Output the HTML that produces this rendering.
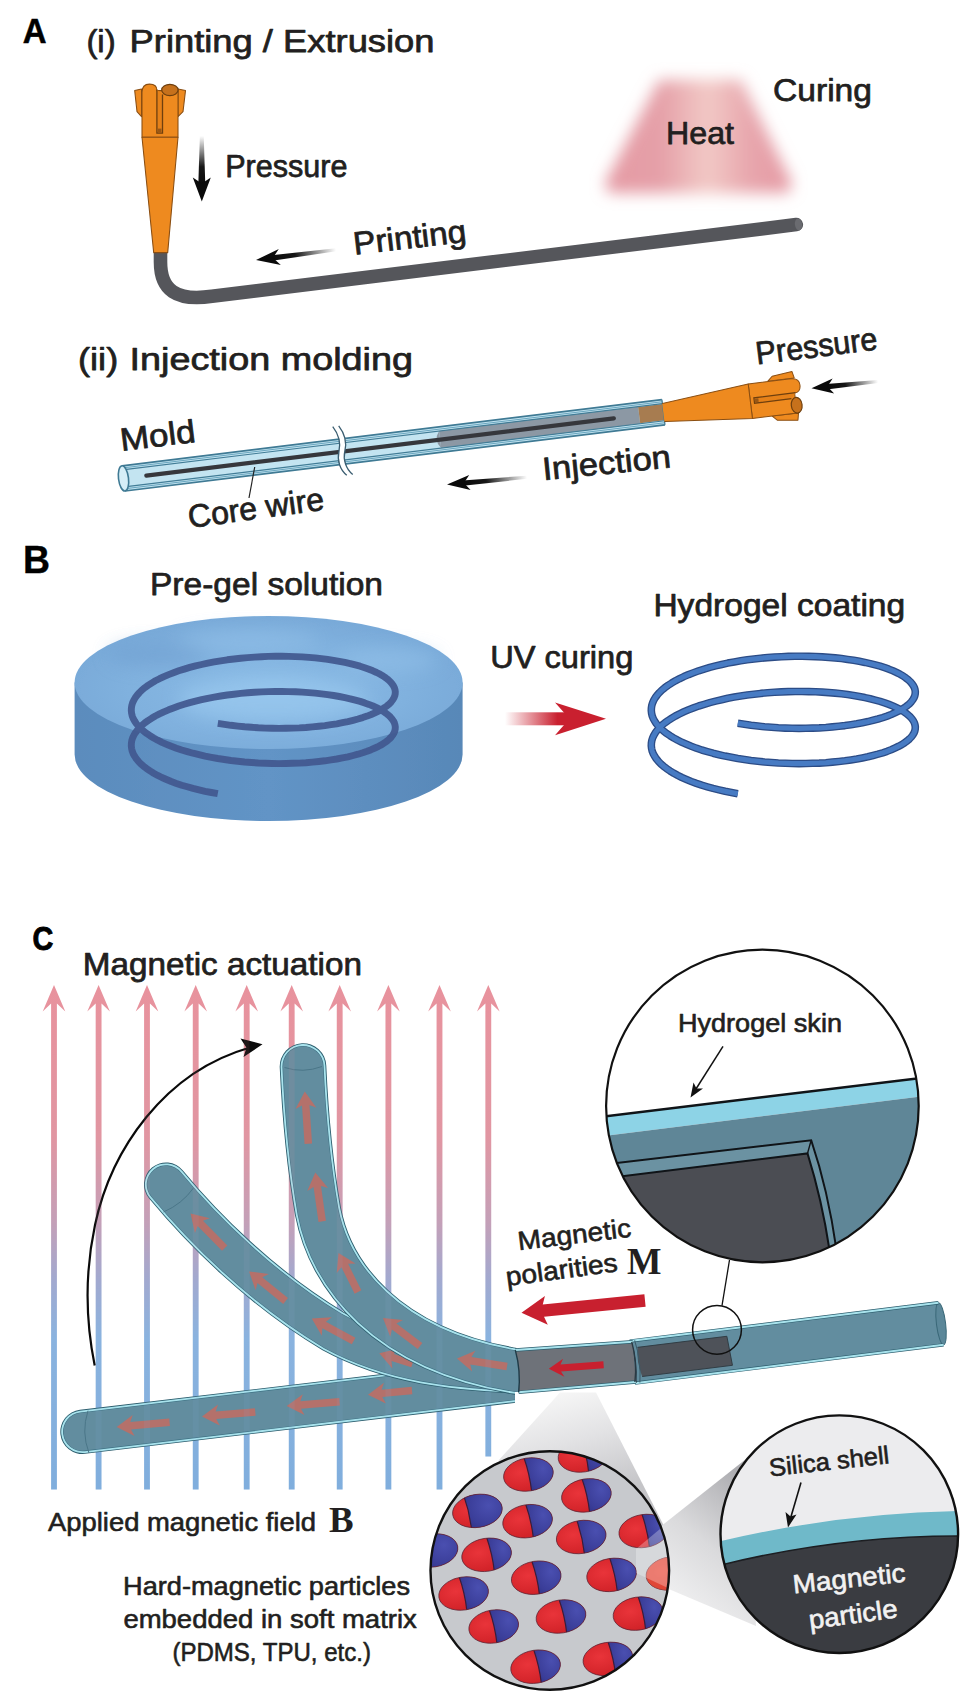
<!DOCTYPE html>
<html><head><meta charset="utf-8"><title>Figure</title>
<style>html,body{margin:0;padding:0;background:#fff;overflow:hidden}svg{display:block}</style>
</head><body>
<svg width="976" height="1693" viewBox="0 0 976 1693">
<rect width="976" height="1693" fill="#fff"/>
<text x="22.7" y="42.7" font-family="&quot;Liberation Sans&quot;, sans-serif" font-size="34.2" fill="#000" textLength="23.8" lengthAdjust="spacingAndGlyphs" font-weight="bold" stroke="#000" stroke-width="0.5">A</text>
<text x="86.4" y="52.2" font-family="&quot;Liberation Sans&quot;, sans-serif" font-size="32.2" fill="#221f20" textLength="29.3" lengthAdjust="spacingAndGlyphs" stroke="#221f20" stroke-width="0.75" stroke-linejoin="round" >(i)</text>
<text x="129.6" y="52.2" font-family="&quot;Liberation Sans&quot;, sans-serif" font-size="32.2" fill="#221f20" textLength="304.9" lengthAdjust="spacingAndGlyphs" stroke="#221f20" stroke-width="0.75" stroke-linejoin="round" >Printing / Extrusion</text>
<path d="M160.5,248 L160.5,262 C160.5,290 176,301.5 212,296.3 L796.3,224.6" fill="none" stroke="#55565b" stroke-width="13.6" stroke-linecap="round" stroke-linejoin="round"/>
<ellipse cx="798.5" cy="224.4" rx="3.6" ry="6" fill="#6a6b70" transform="rotate(-7 798.5 224.4)"/>
<g transform="translate(160.5 252.6)"><path d="M-25.8,-162 L-19,-163.5 L-19,-136 L-23.5,-141 Z" fill="#ee8a1f" stroke="#8a4e12" stroke-width="1.05" stroke-linejoin="round"/><path d="M25,-162 L17.5,-163.5 L17.5,-136 L22.5,-141 Z" fill="#ee8a1f" stroke="#8a4e12" stroke-width="1.05" stroke-linejoin="round"/><path d="M-18.5,-115.4 L-18.5,-160 Q-18.5,-168.5 -11,-168.5 Q-3.5,-168.5 -3.5,-162 L1.5,-162 L17.5,-162 L17.5,-115.4 Z" fill="#ee8a1f" stroke="#8a4e12" stroke-width="1.05" stroke-linejoin="round"/><path d="M-18.5,-115.4 L17.5,-115.4 L7.2,0 L-6.8,0 Z" fill="#ee8a1f" stroke="#8a4e12" stroke-width="1.05" stroke-linejoin="round"/><path d="M-3.6,-163 L-3.6,-119.5 L2,-119.5 L2,-158" fill="#e58119" stroke="#6e3f0e" stroke-width="1.3"/><rect x="-2.6" y="-124" width="3.6" height="4" fill="#9a5715"/><ellipse cx="9.4" cy="-162.6" rx="8.2" ry="5.6" fill="#c6711c" stroke="#6e3f0e" stroke-width="1.2"/></g>
<g transform="translate(201.8 201.5) rotate(-90.00)"><defs><linearGradient id="ga1" gradientUnits="userSpaceOnUse" x1="18" y1="0" x2="65.5" y2="0"><stop offset="0" stop-color="#0a0a0a"/><stop offset="0.35" stop-color="#0a0a0a" stop-opacity="0.95"/><stop offset="1" stop-color="#0a0a0a" stop-opacity="0"/></linearGradient></defs><polygon points="17,-3.5 65.5,-1.9250000000000003 65.5,1.9250000000000003 17,3.5" fill="url(#ga1)"/><path d="M0,0 L24,-9.0 L18,0 L24,9.0 Z" fill="#0a0a0a"/></g>
<text x="225.2" y="176.5" font-family="&quot;Liberation Sans&quot;, sans-serif" font-size="32.2" fill="#221f20" textLength="122.3" lengthAdjust="spacingAndGlyphs" stroke="#221f20" stroke-width="0.75" stroke-linejoin="round" >Pressure</text>
<g transform="translate(256 260) rotate(-7.27)"><defs><linearGradient id="ga2" gradientUnits="userSpaceOnUse" x1="17" y1="0" x2="80.64762860741784" y2="0"><stop offset="0" stop-color="#0a0a0a"/><stop offset="0.35" stop-color="#0a0a0a" stop-opacity="0.95"/><stop offset="1" stop-color="#0a0a0a" stop-opacity="0"/></linearGradient></defs><polygon points="16,-2.75 80.64762860741784,-1.5125000000000002 80.64762860741784,1.5125000000000002 16,2.75" fill="url(#ga2)"/><path d="M0,0 L24,-8.0 L17,0 L24,8.0 Z" fill="#0a0a0a"/></g>
<text x="354.5" y="254.8" font-family="&quot;Liberation Sans&quot;, sans-serif" font-size="32.2" fill="#221f20" textLength="113.5" lengthAdjust="spacingAndGlyphs" stroke="#221f20" stroke-width="0.75" stroke-linejoin="round" transform="rotate(-6.6 354.5 254.8)" >Printing</text>
<defs><linearGradient id="heatg" x1="0" x2="1" y1="0" y2="0">
<stop offset="0" stop-color="#e59aa4"/><stop offset="0.3" stop-color="#e5a0a8"/><stop offset="0.55" stop-color="#f2c9c6"/><stop offset="0.78" stop-color="#e7a5ac"/><stop offset="1" stop-color="#e59aa4"/></linearGradient>
<filter id="blur7" x="-20%" y="-20%" width="140%" height="140%"><feGaussianBlur stdDeviation="7.5"/></filter></defs>
<path d="M659,80 L741,80 L791,181 Q794,193 782,193 L615,193 Q603,193 606,181 Z" fill="url(#heatg)" filter="url(#blur7)"/>
<text x="666.0" y="144.4" font-family="&quot;Liberation Sans&quot;, sans-serif" font-size="32.2" fill="#221f20" textLength="68.0" lengthAdjust="spacingAndGlyphs" stroke="#221f20" stroke-width="0.75" stroke-linejoin="round" >Heat</text>
<text x="773.0" y="100.8" font-family="&quot;Liberation Sans&quot;, sans-serif" font-size="32.2" fill="#221f20" textLength="99.0" lengthAdjust="spacingAndGlyphs" stroke="#221f20" stroke-width="0.75" stroke-linejoin="round" >Curing</text>
<text x="78.0" y="369.6" font-family="&quot;Liberation Sans&quot;, sans-serif" font-size="32.2" fill="#221f20" textLength="40.2" lengthAdjust="spacingAndGlyphs" stroke="#221f20" stroke-width="0.75" stroke-linejoin="round" >(ii)</text>
<text x="129.5" y="369.6" font-family="&quot;Liberation Sans&quot;, sans-serif" font-size="32.2" fill="#221f20" textLength="283.5" lengthAdjust="spacingAndGlyphs" stroke="#221f20" stroke-width="0.75" stroke-linejoin="round" >Injection molding</text>
<g transform="translate(123.5 478.4) rotate(-6.989)"><rect x="0" y="-12.7" width="544.0" height="25.4" fill="#c3e4f1"/><rect x="319" y="-8.6" width="200.5" height="17.2" fill="#8c98a4"/><path d="M319,-8.6 Q312,0 319,8.6 Z" fill="#8c98a4"/><rect x="519.5" y="-8.2" width="24.5" height="16.4" fill="#a77c50"/><line x1="0" y1="-12.7" x2="544.0" y2="-12.7" stroke="#3f7a94" stroke-width="1.7"/><line x1="0" y1="-10.5" x2="544.0" y2="-10.5" stroke="#6aa6bf" stroke-width="1.0"/><line x1="0" y1="-8.6" x2="544.0" y2="-8.6" stroke="#417c96" stroke-width="1.2"/><line x1="0" y1="8.6" x2="544.0" y2="8.6" stroke="#417c96" stroke-width="1.2"/><line x1="0" y1="10.5" x2="544.0" y2="10.5" stroke="#6aa6bf" stroke-width="1.0"/><line x1="0" y1="12.7" x2="544.0" y2="12.7" stroke="#3f7a94" stroke-width="1.7"/><line x1="544.0" y1="-12.7" x2="544.0" y2="12.7" stroke="#3f7a94" stroke-width="1.2"/><line x1="23" y1="0" x2="494" y2="0" stroke="#36373c" stroke-width="4.2" stroke-linecap="round"/><ellipse cx="0" cy="0" rx="5" ry="12.7" fill="#d6eef7" stroke="#3f7a94" stroke-width="1.6"/><path d="M214,-26 C220,-16 220,-8 217,0 C214,8 216,18 222,24 L228,24 C222,18 220,8 223,0 C226,-8 226,-16 220,-26 Z" fill="#fff"/><path d="M214,-26 C220,-16 220,-8 217,0 C214,8 216,18 222,24" fill="none" stroke="#3a5d70" stroke-width="1.3"/><path d="M220,-26 C226,-16 226,-8 223,0 C220,8 222,18 228,24" fill="none" stroke="#3a5d70" stroke-width="1.3"/></g>
<g transform="translate(663.8 412.4) rotate(83) scale(0.965) translate(0 25)"><g clip-path="url(#nzclip)"><path d="M-25.8,-162 L-19,-163.5 L-19,-136 L-23.5,-141 Z" fill="#ee8a1f" stroke="#8a4e12" stroke-width="1.05" stroke-linejoin="round"/><path d="M25,-162 L17.5,-163.5 L17.5,-136 L22.5,-141 Z" fill="#ee8a1f" stroke="#8a4e12" stroke-width="1.05" stroke-linejoin="round"/><path d="M-18.5,-115.4 L-18.5,-160 Q-18.5,-168.5 -11,-168.5 Q-3.5,-168.5 -3.5,-162 L1.5,-162 L17.5,-162 L17.5,-115.4 Z" fill="#ee8a1f" stroke="#8a4e12" stroke-width="1.05" stroke-linejoin="round"/><path d="M-18.5,-115.4 L17.5,-115.4 L7.2,0 L-6.8,0 Z" fill="#ee8a1f" stroke="#8a4e12" stroke-width="1.05" stroke-linejoin="round"/><path d="M-3.6,-163 L-3.6,-119.5 L2,-119.5 L2,-158" fill="#e58119" stroke="#6e3f0e" stroke-width="1.3"/><rect x="-2.6" y="-124" width="3.6" height="4" fill="#9a5715"/><ellipse cx="9.4" cy="-162.6" rx="8.2" ry="5.6" fill="#c6711c" stroke="#6e3f0e" stroke-width="1.2"/></g></g>
<defs><clipPath id="nzclip"><rect x="-40" y="-200" width="80" height="175.5"/></clipPath></defs>
<text x="121.5" y="451" font-family="&quot;Liberation Sans&quot;, sans-serif" font-size="32.2" fill="#221f20" textLength="75.5" lengthAdjust="spacingAndGlyphs" stroke="#221f20" stroke-width="0.75" stroke-linejoin="round" transform="rotate(-7 121.5 451)" >Mold</text>
<text x="189.5" y="528" font-family="&quot;Liberation Sans&quot;, sans-serif" font-size="32.2" fill="#221f20" textLength="137.0" lengthAdjust="spacingAndGlyphs" stroke="#221f20" stroke-width="0.75" stroke-linejoin="round" transform="rotate(-7.7 189.5 528)" >Core wire</text>
<line x1="254.7" y1="467" x2="249" y2="498" stroke="#222" stroke-width="1.2"/>
<text x="757.1" y="364.6" font-family="&quot;Liberation Sans&quot;, sans-serif" font-size="32.2" fill="#221f20" textLength="122.3" lengthAdjust="spacingAndGlyphs" stroke="#221f20" stroke-width="0.75" stroke-linejoin="round" transform="rotate(-7.2 757.1 364.6)" >Pressure</text>
<g transform="translate(811.5 388.2) rotate(-5.75)"><defs><linearGradient id="ga3" gradientUnits="userSpaceOnUse" x1="16" y1="0" x2="66.8366665835453" y2="0"><stop offset="0" stop-color="#0a0a0a"/><stop offset="0.35" stop-color="#0a0a0a" stop-opacity="0.95"/><stop offset="1" stop-color="#0a0a0a" stop-opacity="0"/></linearGradient></defs><polygon points="15,-2.75 66.8366665835453,-1.5125000000000002 66.8366665835453,1.5125000000000002 15,2.75" fill="url(#ga3)"/><path d="M0,0 L22,-7.5 L16,0 L22,7.5 Z" fill="#0a0a0a"/></g>
<text x="543.4" y="480.2" font-family="&quot;Liberation Sans&quot;, sans-serif" font-size="32.2" fill="#221f20" textLength="129.0" lengthAdjust="spacingAndGlyphs" stroke="#221f20" stroke-width="0.75" stroke-linejoin="round" transform="rotate(-5.7 543.4 480.2)" >Injection</text>
<g transform="translate(447 484.6) rotate(-5.28)"><defs><linearGradient id="ga4" gradientUnits="userSpaceOnUse" x1="17" y1="0" x2="80.34152102120049" y2="0"><stop offset="0" stop-color="#0a0a0a"/><stop offset="0.35" stop-color="#0a0a0a" stop-opacity="0.95"/><stop offset="1" stop-color="#0a0a0a" stop-opacity="0"/></linearGradient></defs><polygon points="16,-2.75 80.34152102120049,-1.5125000000000002 80.34152102120049,1.5125000000000002 16,2.75" fill="url(#ga4)"/><path d="M0,0 L23,-7.5 L17,0 L23,7.5 Z" fill="#0a0a0a"/></g>

<text x="22.9" y="572.6" font-family="&quot;Liberation Sans&quot;, sans-serif" font-size="38.5" fill="#000" textLength="27" lengthAdjust="spacingAndGlyphs" font-weight="bold" stroke="#000" stroke-width="0.4">B</text>
<text x="150.0" y="595" font-family="&quot;Liberation Sans&quot;, sans-serif" font-size="32.2" fill="#221f20" textLength="233.0" lengthAdjust="spacingAndGlyphs" stroke="#221f20" stroke-width="0.75" stroke-linejoin="round" >Pre-gel solution</text>
<defs>
<radialGradient id="dtop" cx="0.5" cy="0.55" r="0.6"><stop offset="0" stop-color="#8bbce6"/><stop offset="0.6" stop-color="#80b1de"/><stop offset="1" stop-color="#76a7d6"/></radialGradient>
<linearGradient id="dside" x1="0" x2="1" y1="0" y2="0"><stop offset="0" stop-color="#5b8cbd"/><stop offset="0.5" stop-color="#6294c6"/><stop offset="1" stop-color="#5888b8"/></linearGradient>
<filter id="blur1"><feGaussianBlur stdDeviation="0.7"/></filter>
<filter id="blur12" x="-10%" y="-30%" width="120%" height="160%"><feGaussianBlur stdDeviation="9"/></filter>
</defs>
<g filter="url(#blur1)"><path d="M74.60000000000002,682.5 L74.60000000000002,754.5 A194,66.5 0 0 0 462.6,754.5 L462.6,682.5 Z" fill="url(#dside)"/><ellipse cx="268.6" cy="682.5" rx="194" ry="66.5" fill="url(#dtop)"/><g filter="url(#blur12)" opacity="0.55"><ellipse cx="273.6" cy="700" rx="95" ry="22" fill="#9fcdf2"/><ellipse cx="158.60000000000002" cy="655" rx="50" ry="12" fill="#6f9fd0"/><ellipse cx="388.6" cy="660" rx="50" ry="12" fill="#94c2ea"/><ellipse cx="248.60000000000002" cy="640" rx="70" ry="10" fill="#94c2ea"/></g></g>
<path d="M217.8,723.3 L224.4,724.3 L231.0,725.3 L237.8,726.1 L244.6,726.8 L251.4,727.3 L258.3,727.8 L265.2,728.1 L272.1,728.3 L279.0,728.4 L285.9,728.3 L292.6,728.1 L299.3,727.9 L305.9,727.5 L312.4,726.9 L318.8,726.3 L324.9,725.6 L331.0,724.7 L336.8,723.8 L342.4,722.7 L347.9,721.6 L353.1,720.3 L358.0,719.0 L362.7,717.6 L367.1,716.1 L371.2,714.5 L375.0,712.8 L378.6,711.1 L381.8,709.4 L384.7,707.5 L387.2,705.7 L389.4,703.8 L391.3,701.8 L392.8,699.8 L394.0,697.8 L394.8,695.8 L395.2,693.8 L395.3,691.7 L395.0,689.7 L394.4,687.7 L393.4,685.7 L392.0,683.7 L390.3,681.7 L388.2,679.8 L385.8,677.9 L383.1,676.0 L380.0,674.2 L376.6,672.5 L372.9,670.8 L368.9,669.2 L364.7,667.7 L360.1,666.2 L355.3,664.9 L350.2,663.6 L344.9,662.4 L339.3,661.3 L333.6,660.3 L327.6,659.4 L321.5,658.6 L315.2,657.9 L308.8,657.4 L302.2,656.9 L295.6,656.6 L288.8,656.4 L282.0,656.3 L275.2,656.3 L268.3,656.4 L261.4,656.7 L254.5,657.1 L247.6,657.6 L240.7,658.2 L234.0,659.0 L227.3,659.8 L220.7,660.8 L214.2,661.9 L207.8,663.1 L201.7,664.5 L195.6,665.9 L189.8,667.4 L184.2,669.1 L178.7,670.8 L173.5,672.7 L168.6,674.6 L163.9,676.6 L159.5,678.7 L155.4,680.8 L151.6,683.1 L148.0,685.4 L144.8,687.7 L141.9,690.1 L139.4,692.6 L137.2,695.1 L135.3,697.6 L133.8,700.2 L132.6,702.8 L131.8,705.4 L131.4,708.0 L131.3,710.6 L131.6,713.3 L132.2,715.9 L133.2,718.5 L134.6,721.0 L136.3,723.6 L138.4,726.1 L140.8,728.6 L143.5,731.0 L146.6,733.4 L150.0,735.7 L153.7,738.0 L157.7,740.2 L161.9,742.3 L166.5,744.3 L171.3,746.3 L176.4,748.2 L181.7,750.0 L187.3,751.6 L193.0,753.2 L199.0,754.7 L205.1,756.1 L211.4,757.3 L217.8,758.5 L224.4,759.5 L231.0,760.5 L237.8,761.3 L244.6,762.0 L251.4,762.5 L258.3,763.0 L265.2,763.3 L272.1,763.5 L279.0,763.6 L285.9,763.5 L292.6,763.3 L299.3,763.1 L305.9,762.7 L312.4,762.1 L318.8,761.5 L324.9,760.8 L331.0,759.9 L336.8,759.0 L342.4,757.9 L347.9,756.8 L353.1,755.5 L358.0,754.2 L362.7,752.8 L367.1,751.3 L371.2,749.7 L375.0,748.0 L378.6,746.3 L381.8,744.6 L384.7,742.7 L387.2,740.9 L389.4,739.0 L391.3,737.0 L392.8,735.0 L394.0,733.0 L394.8,731.0 L395.2,729.0 L395.3,726.9 L395.0,724.9 L394.4,722.9 L393.4,720.9 L392.0,718.9 L390.3,716.9 L388.2,715.0 L385.8,713.1 L383.1,711.2 L380.0,709.4 L376.6,707.7 L372.9,706.0 L368.9,704.4 L364.7,702.9 L360.1,701.4 L355.3,700.1 L350.2,698.8 L344.9,697.6 L339.3,696.5 L333.6,695.5 L327.6,694.6 L321.5,693.8 L315.2,693.1 L308.8,692.6 L302.2,692.1 L295.6,691.8 L288.8,691.6 L282.0,691.5 L275.2,691.5 L268.3,691.6 L261.4,691.9 L254.5,692.3 L247.6,692.8 L240.7,693.4 L234.0,694.2 L227.3,695.0 L220.7,696.0 L214.2,697.1 L207.8,698.3 L201.7,699.7 L195.6,701.1 L189.8,702.6 L184.2,704.3 L178.7,706.0 L173.5,707.9 L168.6,709.8 L163.9,711.8 L159.5,713.9 L155.4,716.0 L151.6,718.3 L148.0,720.6 L144.8,722.9 L141.9,725.3 L139.4,727.8 L137.2,730.3 L135.3,732.8 L133.8,735.4 L132.6,738.0 L131.8,740.6 L131.4,743.2 L131.3,745.8 L131.6,748.5 L132.2,751.1 L133.2,753.7 L134.6,756.2 L136.3,758.8 L138.4,761.3 L140.8,763.8 L143.5,766.2 L146.6,768.6 L150.0,770.9 L153.7,773.2 L157.7,775.4 L161.9,777.5 L166.5,779.5 L171.3,781.5 L176.4,783.4 L181.7,785.2 L187.3,786.8 L193.0,788.4 L199.0,789.9 L205.1,791.3 L211.4,792.5 L217.8,793.7" fill="none" stroke="#42588f" stroke-width="6.9" stroke-linecap="butt" stroke-linejoin="round" opacity="0.93"/>
<text x="490.2" y="667.5" font-family="&quot;Liberation Sans&quot;, sans-serif" font-size="32.2" fill="#221f20" textLength="143.2" lengthAdjust="spacingAndGlyphs" stroke="#221f20" stroke-width="0.75" stroke-linejoin="round" >UV curing</text>
<defs><linearGradient id="uvg" gradientUnits="userSpaceOnUse" x1="505" x2="575" y1="0" y2="0"><stop offset="0" stop-color="#c9202f" stop-opacity="0"/><stop offset="0.75" stop-color="#c9202f" stop-opacity="1"/></linearGradient></defs>
<rect x="505" y="712.3" width="68" height="13" fill="url(#uvg)"/>
<path d="M606,718.8 L555,702.5 L569.5,718.8 L555,735.3 Z" fill="#c9202f"/>
<text x="653.4" y="615.6" font-family="&quot;Liberation Sans&quot;, sans-serif" font-size="32.2" fill="#221f20" textLength="251.8" lengthAdjust="spacingAndGlyphs" stroke="#221f20" stroke-width="0.75" stroke-linejoin="round" >Hydrogel coating</text>
<path d="M737.8,723.3 L744.4,724.3 L751.0,725.3 L757.8,726.1 L764.6,726.8 L771.4,727.3 L778.3,727.8 L785.2,728.1 L792.1,728.3 L799.0,728.4 L805.9,728.3 L812.6,728.1 L819.3,727.9 L825.9,727.5 L832.4,726.9 L838.8,726.3 L844.9,725.6 L851.0,724.7 L856.8,723.8 L862.4,722.7 L867.9,721.6 L873.1,720.3 L878.0,719.0 L882.7,717.6 L887.1,716.1 L891.2,714.5 L895.0,712.8 L898.6,711.1 L901.8,709.4 L904.7,707.5 L907.2,705.7 L909.4,703.8 L911.3,701.8 L912.8,699.8 L914.0,697.8 L914.8,695.8 L915.2,693.8 L915.3,691.7 L915.0,689.7 L914.4,687.7 L913.4,685.7 L912.0,683.7 L910.3,681.7 L908.2,679.8 L905.8,677.9 L903.1,676.0 L900.0,674.2 L896.6,672.5 L892.9,670.8 L888.9,669.2 L884.7,667.7 L880.1,666.2 L875.3,664.9 L870.2,663.6 L864.9,662.4 L859.3,661.3 L853.6,660.3 L847.6,659.4 L841.5,658.6 L835.2,657.9 L828.8,657.4 L822.2,656.9 L815.6,656.6 L808.8,656.4 L802.0,656.3 L795.2,656.3 L788.3,656.4 L781.4,656.7 L774.5,657.1 L767.6,657.6 L760.7,658.2 L754.0,659.0 L747.3,659.8 L740.7,660.8 L734.2,661.9 L727.8,663.1 L721.7,664.5 L715.6,665.9 L709.8,667.4 L704.2,669.1 L698.7,670.8 L693.5,672.7 L688.6,674.6 L683.9,676.6 L679.5,678.7 L675.4,680.8 L671.6,683.1 L668.0,685.4 L664.8,687.7 L661.9,690.1 L659.4,692.6 L657.2,695.1 L655.3,697.6 L653.8,700.2 L652.6,702.8 L651.8,705.4 L651.4,708.0 L651.3,710.6 L651.6,713.3 L652.2,715.9 L653.2,718.5 L654.6,721.0 L656.3,723.6 L658.4,726.1 L660.8,728.6 L663.5,731.0 L666.6,733.4 L670.0,735.7 L673.7,738.0 L677.7,740.2 L681.9,742.3 L686.5,744.3 L691.3,746.3 L696.4,748.2 L701.7,750.0 L707.3,751.6 L713.0,753.2 L719.0,754.7 L725.1,756.1 L731.4,757.3 L737.8,758.5 L744.4,759.5 L751.0,760.5 L757.8,761.3 L764.6,762.0 L771.4,762.5 L778.3,763.0 L785.2,763.3 L792.1,763.5 L799.0,763.6 L805.9,763.5 L812.6,763.3 L819.3,763.1 L825.9,762.7 L832.4,762.1 L838.8,761.5 L844.9,760.8 L851.0,759.9 L856.8,759.0 L862.4,757.9 L867.9,756.8 L873.1,755.5 L878.0,754.2 L882.7,752.8 L887.1,751.3 L891.2,749.7 L895.0,748.0 L898.6,746.3 L901.8,744.6 L904.7,742.7 L907.2,740.9 L909.4,739.0 L911.3,737.0 L912.8,735.0 L914.0,733.0 L914.8,731.0 L915.2,729.0 L915.3,726.9 L915.0,724.9 L914.4,722.9 L913.4,720.9 L912.0,718.9 L910.3,716.9 L908.2,715.0 L905.8,713.1 L903.1,711.2 L900.0,709.4 L896.6,707.7 L892.9,706.0 L888.9,704.4 L884.7,702.9 L880.1,701.4 L875.3,700.1 L870.2,698.8 L864.9,697.6 L859.3,696.5 L853.6,695.5 L847.6,694.6 L841.5,693.8 L835.2,693.1 L828.8,692.6 L822.2,692.1 L815.6,691.8 L808.8,691.6 L802.0,691.5 L795.2,691.5 L788.3,691.6 L781.4,691.9 L774.5,692.3 L767.6,692.8 L760.7,693.4 L754.0,694.2 L747.3,695.0 L740.7,696.0 L734.2,697.1 L727.8,698.3 L721.7,699.7 L715.6,701.1 L709.8,702.6 L704.2,704.3 L698.7,706.0 L693.5,707.9 L688.6,709.8 L683.9,711.8 L679.5,713.9 L675.4,716.0 L671.6,718.3 L668.0,720.6 L664.8,722.9 L661.9,725.3 L659.4,727.8 L657.2,730.3 L655.3,732.8 L653.8,735.4 L652.6,738.0 L651.8,740.6 L651.4,743.2 L651.3,745.8 L651.6,748.5 L652.2,751.1 L653.2,753.7 L654.6,756.2 L656.3,758.8 L658.4,761.3 L660.8,763.8 L663.5,766.2 L666.6,768.6 L670.0,770.9 L673.7,773.2 L677.7,775.4 L681.9,777.5 L686.5,779.5 L691.3,781.5 L696.4,783.4 L701.7,785.2 L707.3,786.8 L713.0,788.4 L719.0,789.9 L725.1,791.3 L731.4,792.5 L737.8,793.7" fill="none" stroke="#2c4c86" stroke-width="7.6" stroke-linecap="butt" stroke-linejoin="round"/>
<path d="M737.8,723.3 L744.4,724.3 L751.0,725.3 L757.8,726.1 L764.6,726.8 L771.4,727.3 L778.3,727.8 L785.2,728.1 L792.1,728.3 L799.0,728.4 L805.9,728.3 L812.6,728.1 L819.3,727.9 L825.9,727.5 L832.4,726.9 L838.8,726.3 L844.9,725.6 L851.0,724.7 L856.8,723.8 L862.4,722.7 L867.9,721.6 L873.1,720.3 L878.0,719.0 L882.7,717.6 L887.1,716.1 L891.2,714.5 L895.0,712.8 L898.6,711.1 L901.8,709.4 L904.7,707.5 L907.2,705.7 L909.4,703.8 L911.3,701.8 L912.8,699.8 L914.0,697.8 L914.8,695.8 L915.2,693.8 L915.3,691.7 L915.0,689.7 L914.4,687.7 L913.4,685.7 L912.0,683.7 L910.3,681.7 L908.2,679.8 L905.8,677.9 L903.1,676.0 L900.0,674.2 L896.6,672.5 L892.9,670.8 L888.9,669.2 L884.7,667.7 L880.1,666.2 L875.3,664.9 L870.2,663.6 L864.9,662.4 L859.3,661.3 L853.6,660.3 L847.6,659.4 L841.5,658.6 L835.2,657.9 L828.8,657.4 L822.2,656.9 L815.6,656.6 L808.8,656.4 L802.0,656.3 L795.2,656.3 L788.3,656.4 L781.4,656.7 L774.5,657.1 L767.6,657.6 L760.7,658.2 L754.0,659.0 L747.3,659.8 L740.7,660.8 L734.2,661.9 L727.8,663.1 L721.7,664.5 L715.6,665.9 L709.8,667.4 L704.2,669.1 L698.7,670.8 L693.5,672.7 L688.6,674.6 L683.9,676.6 L679.5,678.7 L675.4,680.8 L671.6,683.1 L668.0,685.4 L664.8,687.7 L661.9,690.1 L659.4,692.6 L657.2,695.1 L655.3,697.6 L653.8,700.2 L652.6,702.8 L651.8,705.4 L651.4,708.0 L651.3,710.6 L651.6,713.3 L652.2,715.9 L653.2,718.5 L654.6,721.0 L656.3,723.6 L658.4,726.1 L660.8,728.6 L663.5,731.0 L666.6,733.4 L670.0,735.7 L673.7,738.0 L677.7,740.2 L681.9,742.3 L686.5,744.3 L691.3,746.3 L696.4,748.2 L701.7,750.0 L707.3,751.6 L713.0,753.2 L719.0,754.7 L725.1,756.1 L731.4,757.3 L737.8,758.5 L744.4,759.5 L751.0,760.5 L757.8,761.3 L764.6,762.0 L771.4,762.5 L778.3,763.0 L785.2,763.3 L792.1,763.5 L799.0,763.6 L805.9,763.5 L812.6,763.3 L819.3,763.1 L825.9,762.7 L832.4,762.1 L838.8,761.5 L844.9,760.8 L851.0,759.9 L856.8,759.0 L862.4,757.9 L867.9,756.8 L873.1,755.5 L878.0,754.2 L882.7,752.8 L887.1,751.3 L891.2,749.7 L895.0,748.0 L898.6,746.3 L901.8,744.6 L904.7,742.7 L907.2,740.9 L909.4,739.0 L911.3,737.0 L912.8,735.0 L914.0,733.0 L914.8,731.0 L915.2,729.0 L915.3,726.9 L915.0,724.9 L914.4,722.9 L913.4,720.9 L912.0,718.9 L910.3,716.9 L908.2,715.0 L905.8,713.1 L903.1,711.2 L900.0,709.4 L896.6,707.7 L892.9,706.0 L888.9,704.4 L884.7,702.9 L880.1,701.4 L875.3,700.1 L870.2,698.8 L864.9,697.6 L859.3,696.5 L853.6,695.5 L847.6,694.6 L841.5,693.8 L835.2,693.1 L828.8,692.6 L822.2,692.1 L815.6,691.8 L808.8,691.6 L802.0,691.5 L795.2,691.5 L788.3,691.6 L781.4,691.9 L774.5,692.3 L767.6,692.8 L760.7,693.4 L754.0,694.2 L747.3,695.0 L740.7,696.0 L734.2,697.1 L727.8,698.3 L721.7,699.7 L715.6,701.1 L709.8,702.6 L704.2,704.3 L698.7,706.0 L693.5,707.9 L688.6,709.8 L683.9,711.8 L679.5,713.9 L675.4,716.0 L671.6,718.3 L668.0,720.6 L664.8,722.9 L661.9,725.3 L659.4,727.8 L657.2,730.3 L655.3,732.8 L653.8,735.4 L652.6,738.0 L651.8,740.6 L651.4,743.2 L651.3,745.8 L651.6,748.5 L652.2,751.1 L653.2,753.7 L654.6,756.2 L656.3,758.8 L658.4,761.3 L660.8,763.8 L663.5,766.2 L666.6,768.6 L670.0,770.9 L673.7,773.2 L677.7,775.4 L681.9,777.5 L686.5,779.5 L691.3,781.5 L696.4,783.4 L701.7,785.2 L707.3,786.8 L713.0,788.4 L719.0,789.9 L725.1,791.3 L731.4,792.5 L737.8,793.7" fill="none" stroke="#477bc3" stroke-width="5" stroke-linecap="butt" stroke-linejoin="round"/>

<text x="32.4" y="949.9" font-family="&quot;Liberation Sans&quot;, sans-serif" font-size="32.5" fill="#000" textLength="20.8" lengthAdjust="spacingAndGlyphs" font-weight="bold" stroke="#000" stroke-width="0.9">C</text>
<text x="82.8" y="974.5" font-family="&quot;Liberation Sans&quot;, sans-serif" font-size="32.2" fill="#221f20" textLength="279.1" lengthAdjust="spacingAndGlyphs" stroke="#221f20" stroke-width="0.75" stroke-linejoin="round" >Magnetic actuation</text>
<defs><linearGradient id="fld" gradientUnits="userSpaceOnUse" x1="0" x2="0" y1="985" y2="1490">
<stop offset="0" stop-color="#e8929d"/><stop offset="0.30" stop-color="#e196a2"/><stop offset="0.47" stop-color="#c4a0b8"/><stop offset="0.58" stop-color="#a3a9cf"/><stop offset="0.70" stop-color="#8ab3df"/><stop offset="1" stop-color="#80aedd"/></linearGradient></defs>
<path d="M54,985 L65.3,1011.5 L56.9,1003.5 L56.9,1489.5 L51.1,1489.5 L51.1,1003.5 L42.7,1011.5 Z" fill="url(#fld)"/>
<path d="M98.6,985 L109.89999999999999,1011.5 L101.5,1003.5 L101.5,1489.5 L95.69999999999999,1489.5 L95.69999999999999,1003.5 L87.3,1011.5 Z" fill="url(#fld)"/>
<path d="M147,985 L158.3,1011.5 L149.9,1003.5 L149.9,1489.5 L144.1,1489.5 L144.1,1003.5 L135.7,1011.5 Z" fill="url(#fld)"/>
<path d="M195.7,985 L207.0,1011.5 L198.6,1003.5 L198.6,1489.5 L192.79999999999998,1489.5 L192.79999999999998,1003.5 L184.39999999999998,1011.5 Z" fill="url(#fld)"/>
<path d="M246.7,985 L258.0,1011.5 L249.6,1003.5 L249.6,1489.5 L243.79999999999998,1489.5 L243.79999999999998,1003.5 L235.39999999999998,1011.5 Z" fill="url(#fld)"/>
<path d="M291.7,985 L303.0,1011.5 L294.59999999999997,1003.5 L294.59999999999997,1489.5 L288.8,1489.5 L288.8,1003.5 L280.4,1011.5 Z" fill="url(#fld)"/>
<path d="M339.7,985 L351.0,1011.5 L342.59999999999997,1003.5 L342.59999999999997,1489.5 L336.8,1489.5 L336.8,1003.5 L328.4,1011.5 Z" fill="url(#fld)"/>
<path d="M388.4,985 L399.7,1011.5 L391.29999999999995,1003.5 L391.29999999999995,1489.5 L385.5,1489.5 L385.5,1003.5 L377.09999999999997,1011.5 Z" fill="url(#fld)"/>
<path d="M439.5,985 L450.8,1011.5 L442.4,1003.5 L442.4,1489.5 L436.6,1489.5 L436.6,1003.5 L428.2,1011.5 Z" fill="url(#fld)"/>
<path d="M488.3,985 L499.6,1011.5 L491.2,1003.5 L491.2,1456.5 L485.40000000000003,1456.5 L485.40000000000003,1003.5 L477.0,1011.5 Z" fill="url(#fld)"/>
<path d="M94.7,1365.5 C85.5,1320 85,1272 95,1225 C111,1150 164,1072 250,1047.5" fill="none" stroke="#0a0a0a" stroke-width="2.2"/>
<path d="M262.5,1044.3 L240.5,1038.5 L246.5,1047.8 L243.5,1057 Z" fill="#0a0a0a"/>
<defs><clipPath id="jclip"><path d="M0,900 L517.5,900 L516.5,1349 Q520.5,1371 518.5,1392 L515,1392 L514,1500 L0,1500 Z"/></clipPath></defs>
<g clip-path="url(#jclip)"><path d="M82.5,1431.8 L540,1377.6" fill="none" stroke="#2c5d6d" stroke-width="44.4" stroke-linecap="round" stroke-linejoin="round"/><path d="M82.5,1431.8 L540,1377.6" fill="none" stroke="#a9e3ed" stroke-width="42.6" stroke-linecap="round" stroke-linejoin="round"/><path d="M82.5,1431.8 L540,1377.6" fill="none" stroke="#3f7385" stroke-width="39.0" stroke-linecap="round" stroke-linejoin="round"/><path d="M82.5,1431.8 L540,1377.6" fill="none" stroke="#628d9f" stroke-width="37.8" stroke-linecap="round" stroke-linejoin="round"/></g>
<path d="M88,1410.7 Q81,1432 89,1453" fill="none" stroke="#4a7688" stroke-width="1"/>
<path transform="translate(116.7 1427) rotate(-5.08)" d="M0,0 L17,-10.5 L14,-3.75 L53.10837975310487,-3.75 L53.10837975310487,3.75 L14,3.75 L17,10.5 Z" fill="#b4716b" opacity="1"/>
<path transform="translate(202 1416.5) rotate(-4.83)" d="M0,0 L17,-10.5 L14,-3.75 L53.48962516226863,-3.75 L53.48962516226863,3.75 L14,3.75 L17,10.5 Z" fill="#b4716b" opacity="1"/>
<path transform="translate(286.7 1406) rotate(-4.54)" d="M0,0 L17,-10.5 L14,-3.75 L53.06646775507113,-3.75 L53.06646775507113,3.75 L14,3.75 L17,10.5 Z" fill="#b4716b" opacity="1"/>
<path transform="translate(368 1394.7) rotate(-5.45)" d="M0,0 L17,-10.5 L14,-3.75 L44.2,-3.75 L44.2,3.75 L14,3.75 L17,10.5 Z" fill="#b4716b" opacity="1"/>
<g clip-path="url(#jclip)"><path d="M166,1184.5 C202,1228 260,1287 333,1331 C390,1362 450,1370 540,1372.5" fill="none" stroke="#2c5d6d" stroke-width="44" stroke-linecap="round" stroke-linejoin="round"/><path d="M166,1184.5 C202,1228 260,1287 333,1331 C390,1362 450,1370 540,1372.5" fill="none" stroke="#a9e3ed" stroke-width="42.2" stroke-linecap="round" stroke-linejoin="round"/><path d="M166,1184.5 C202,1228 260,1287 333,1331 C390,1362 450,1370 540,1372.5" fill="none" stroke="#3f7385" stroke-width="38.6" stroke-linecap="round" stroke-linejoin="round"/><path d="M166,1184.5 C202,1228 260,1287 333,1331 C390,1362 450,1370 540,1372.5" fill="none" stroke="#628d9f" stroke-width="37.4" stroke-linecap="round" stroke-linejoin="round"/></g>
<path transform="translate(190.5 1213.4) rotate(45.50)" d="M0,0 L17,-10.5 L14,-3.75 L48.792212493388696,-3.75 L48.792212493388696,3.75 L14,3.75 L17,10.5 Z" fill="#b4716b" opacity="1"/>
<path transform="translate(249 1271.4) rotate(38.96)" d="M0,0 L17,-10.5 L14,-3.75 L47.071435074788155,-3.75 L47.071435074788155,3.75 L14,3.75 L17,10.5 Z" fill="#b4716b" opacity="1"/>
<path transform="translate(311.8 1318.4) rotate(28.40)" d="M0,0 L17,-10.5 L14,-3.75 L47.51841748206685,-3.75 L47.51841748206685,3.75 L14,3.75 L17,10.5 Z" fill="#b4716b" opacity="1"/>
<path transform="translate(379.3 1353.3) rotate(17.60)" d="M0,0 L17,-10.5 L14,-3.75 L34.72549495687567,-3.75 L34.72549495687567,3.75 L14,3.75 L17,10.5 Z" fill="#b4716b" opacity="1"/>
<g clip-path="url(#jclip)"><path d="M303,1066.5 C305,1110 309,1160 318,1211.6 C330,1275 385,1350 517,1371.5 L540,1375" fill="none" stroke="#2c5d6d" stroke-width="46.6" stroke-linecap="round" stroke-linejoin="round"/><path d="M303,1066.5 C305,1110 309,1160 318,1211.6 C330,1275 385,1350 517,1371.5 L540,1375" fill="none" stroke="#a9e3ed" stroke-width="44.800000000000004" stroke-linecap="round" stroke-linejoin="round"/><path d="M303,1066.5 C305,1110 309,1160 318,1211.6 C330,1275 385,1350 517,1371.5 L540,1375" fill="none" stroke="#3f7385" stroke-width="41.2" stroke-linecap="round" stroke-linejoin="round"/><path d="M303,1066.5 C305,1110 309,1160 318,1211.6 C330,1275 385,1350 517,1371.5 L540,1375" fill="none" stroke="#628d9f" stroke-width="40.0" stroke-linecap="round" stroke-linejoin="round"/></g>
<path transform="translate(304.8 1091.4) rotate(86.17)" d="M0,0 L17,-10.5 L14,-3.75 L52.416981981033544,-3.75 L52.416981981033544,3.75 L14,3.75 L17,10.5 Z" fill="#b4716b" opacity="1"/>
<path transform="translate(315.3 1172.6) rotate(81.95)" d="M0,0 L17,-10.5 L14,-3.75 L49.28539337369661,-3.75 L49.28539337369661,3.75 L14,3.75 L17,10.5 Z" fill="#b4716b" opacity="1"/>
<path transform="translate(338.5 1253) rotate(63.43)" d="M0,0 L17,-10.5 L14,-3.75 L43.603325561245896,-3.75 L43.603325561245896,3.75 L14,3.75 L17,10.5 Z" fill="#b4716b" opacity="1"/>
<path transform="translate(383 1318) rotate(37.12)" d="M0,0 L17,-10.5 L14,-3.75 L46.400431032480725,-3.75 L46.400431032480725,3.75 L14,3.75 L17,10.5 Z" fill="#b4716b" opacity="1"/>
<path transform="translate(457 1358.5) rotate(9.09)" d="M0,0 L17,-10.5 L14,-3.75 L50.635955604688654,-3.75 L50.635955604688654,3.75 L14,3.75 L17,10.5 Z" fill="#b4716b" opacity="1"/>
<path d="M284.5,1067.5 Q303,1073.5 322,1066.5" fill="none" stroke="#4a7688" stroke-width="1"/>
<path d="M193.5,1188 Q182,1204 163.5,1212" fill="none" stroke="#4a7688" stroke-width="1"/>
<g opacity="0.1"><rect x="51.1" y="1011" width="5.8" height="478.5" fill="url(#fld)"/><rect x="95.69999999999999" y="1011" width="5.8" height="478.5" fill="url(#fld)"/><rect x="144.1" y="1011" width="5.8" height="478.5" fill="url(#fld)"/><rect x="192.79999999999998" y="1011" width="5.8" height="478.5" fill="url(#fld)"/><rect x="243.79999999999998" y="1011" width="5.8" height="478.5" fill="url(#fld)"/><rect x="288.8" y="1011" width="5.8" height="478.5" fill="url(#fld)"/><rect x="336.8" y="1011" width="5.8" height="478.5" fill="url(#fld)"/><rect x="385.5" y="1011" width="5.8" height="478.5" fill="url(#fld)"/><rect x="436.6" y="1011" width="5.8" height="478.5" fill="url(#fld)"/><rect x="485.40000000000003" y="1011" width="5.8" height="445.5" fill="url(#fld)"/></g>
<g transform="translate(633.3 1362.0) rotate(-7.077)"><rect x="-1" y="-21.2" width="311.1" height="42.4" fill="#628d9f"/><ellipse cx="310.1" cy="0" rx="4.6" ry="21.2" fill="#5b8799" stroke="#3a6878" stroke-width="1"/><path d="M6,-14 L96,-14 L98,15.5 L7,15.5 Q3,0 6,-14 Z" fill="#4e5259"/><path d="M6,-14 L96,-14 L98,15.5 L7,15.5" fill="none" stroke="#2f3a42" stroke-width="0.9"/><line x1="-1" y1="-21.2" x2="310.1" y2="-21.2" stroke="#2c5d6d" stroke-width="3.4"/><line x1="-1" y1="-21.2" x2="310.1" y2="-21.2" stroke="#a9e3ed" stroke-width="2"/><line x1="-1" y1="21.2" x2="310.1" y2="21.2" stroke="#2c5d6d" stroke-width="3.4"/><line x1="-1" y1="21.2" x2="310.1" y2="21.2" stroke="#a9e3ed" stroke-width="2"/><path d="M0,-21.2 Q4,0 0,21.2" fill="none" stroke="#2a3a44" stroke-width="1.4"/><path d="M4,-21.2 Q8,0 4,21.2" fill="none" stroke="#3a5a68" stroke-width="1"/></g>
<g transform="translate(517 1371.2) rotate(-4.523)"><path d="M0,-21.2 L117.7,-20.2 L117.7,20.2 L0,21.2 Q4,0 0,-21.2 Z" fill="#6e7279"/><line x1="0" y1="-21.2" x2="117.7" y2="-20.2" stroke="#2c5d6d" stroke-width="3.4"/><line x1="0" y1="-21.2" x2="117.7" y2="-20.2" stroke="#a9e3ed" stroke-width="2"/><line x1="0" y1="21.2" x2="117.7" y2="20.2" stroke="#2c5d6d" stroke-width="3.4"/><line x1="0" y1="21.2" x2="117.7" y2="20.2" stroke="#a9e3ed" stroke-width="2"/><path d="M0,-21.2 Q4,0 0,21.2" fill="none" stroke="#1f3a46" stroke-width="1.4"/><path d="M116.7,-20.2 Q120.7,0 116.7,20.2" fill="none" stroke="#2a3a44" stroke-width="1.4"/></g>
<path transform="translate(548.8 1368.8) rotate(-4.17)" d="M0,0 L15,-9.0 L12,-3.5 L54.94579146759111,-3.5 L54.94579146759111,3.5 L12,3.5 L15,9.0 Z" fill="#c8202f" opacity="1"/>
<path transform="translate(521.5 1312.8) rotate(-5.73)" d="M0,0 L25,-14.5 L22,-6.25 L124.12094907790545,-6.25 L124.12094907790545,6.25 L22,6.25 L25,14.5 Z" fill="#c8202f" opacity="1"/>
<text x="518.7" y="1250.2" font-family="&quot;Liberation Sans&quot;, sans-serif" font-size="26.4" fill="#221f20" textLength="114.0" lengthAdjust="spacingAndGlyphs" stroke="#221f20" stroke-width="0.6" stroke-linejoin="round" transform="rotate(-6.8 518.7 1250.2)" >Magnetic</text>
<text x="507.0" y="1286" font-family="&quot;Liberation Sans&quot;, sans-serif" font-size="26.4" fill="#221f20" textLength="112.5" lengthAdjust="spacingAndGlyphs" stroke="#221f20" stroke-width="0.6" stroke-linejoin="round" transform="rotate(-7.6 507.0 1286)" >polarities</text>
<text x="627" y="1274" font-family="&quot;Liberation Serif&quot;, serif" font-size="37" fill="#221f20" textLength="34.5" lengthAdjust="spacingAndGlyphs" font-weight="bold" >M</text>
<circle cx="717" cy="1329.8" r="24.4" fill="none" stroke="#111" stroke-width="1.5"/>
<line x1="722" y1="1305.6" x2="729.5" y2="1260" stroke="#111" stroke-width="1.3"/>
<defs><clipPath id="bigc"><circle cx="762.4" cy="1106" r="156.3"/></clipPath></defs>
<g clip-path="url(#bigc)"><rect x="600" y="940" width="330" height="330" fill="#fff"/><path d="M600,1117 L925,1077.5 L925,1096 L600,1136.5 Z" fill="#8dd3e6"/><path d="M600,1136.5 L925,1096 L925,1280 L600,1280 Z" fill="#5f8697"/><path d="M600,1165 L811.2,1140.3 Q828,1190 836.5,1250 L836.5,1280 L600,1280 Z" fill="#6b92a2"/><path d="M600,1179 L807.5,1153.4 Q822,1200 829.5,1250 L829.5,1280 L600,1280 Z" fill="#4b4d53"/><path d="M600,1165 L811.2,1140.3 Q828,1190 836.5,1250" fill="none" stroke="#101418" stroke-width="2"/><path d="M600,1179 L807.5,1153.4 Q822,1200 829.5,1250" fill="none" stroke="#101418" stroke-width="2"/><line x1="811.2" y1="1140.3" x2="807.5" y2="1153.4" stroke="#101418" stroke-width="1.4"/><line x1="600" y1="1117" x2="925" y2="1077.5" stroke="#101418" stroke-width="2.4"/></g>
<circle cx="762.4" cy="1106" r="156.3" fill="none" stroke="#111" stroke-width="2.2"/>
<text x="677.9" y="1032.3" font-family="&quot;Liberation Sans&quot;, sans-serif" font-size="25" fill="#221f20" textLength="164.1" lengthAdjust="spacingAndGlyphs" stroke="#221f20" stroke-width="0.6" stroke-linejoin="round" >Hydrogel skin</text>
<line x1="723" y1="1046.3" x2="695" y2="1090.5" stroke="#111" stroke-width="1.5"/>
<path d="M690.5,1097.5 L693.5,1082.5 L696.5,1088.5 L703,1088.5 Z" fill="#111"/>
<defs>
<linearGradient id="cone1" gradientUnits="userSpaceOnUse" x1="560" y1="1392" x2="590" y2="1500"><stop offset="0" stop-color="#f6f6f6"/><stop offset="0.45" stop-color="#e2e2e4"/><stop offset="1" stop-color="#c4c4c7"/></linearGradient>
<linearGradient id="cone2" gradientUnits="userSpaceOnUse" x1="668" y1="1590" x2="752" y2="1485"><stop offset="0" stop-color="#eeeeef"/><stop offset="0.45" stop-color="#dadadc"/><stop offset="1" stop-color="#adadb1"/></linearGradient>
<radialGradient id="pred" cx="0.35" cy="0.4" r="0.8"><stop offset="0" stop-color="#e9343a"/><stop offset="0.7" stop-color="#d22329"/><stop offset="1" stop-color="#b81d25"/></radialGradient>
<radialGradient id="pblue" cx="0.6" cy="0.4" r="0.8"><stop offset="0" stop-color="#4a4fb0"/><stop offset="0.7" stop-color="#3a3d98"/><stop offset="1" stop-color="#2f3285"/></radialGradient>
</defs>
<path d="M560,1392.5 L596,1392.5 L664,1526 L550,1570 L498.7,1460.3 Z" fill="url(#cone1)"/>
<path d="M612,1565 L746,1459 L756,1626 Z" fill="url(#cone2)"/>
<defs><clipPath id="pc"><circle cx="549.8" cy="1570.5" r="119.3"/></clipPath></defs>
<g clip-path="url(#pc)"><circle cx="549.8" cy="1570.5" r="119.3" fill="#c7c9cd"/><g transform="translate(528.4 1474.5) rotate(-9)"><clipPath id="pp0"><ellipse cx="0" cy="0" rx="25" ry="16.5"/></clipPath><ellipse cx="0" cy="0" rx="25" ry="16.5" fill="url(#pred)"/><path clip-path="url(#pp0)" d="M-2.0,-18.5 Q1.5,0 0.5,18.5 L27,18.5 L27,-18.5 Z" fill="url(#pblue)"/><path clip-path="url(#pp0)" d="M-2.0,-18.5 Q1.5,0 0.5,18.5" fill="none" stroke="#3a1d3a" stroke-width="1.2"/><ellipse cx="0" cy="0" rx="25" ry="16.5" fill="none" stroke="#5a2030" stroke-width="0.9" opacity="0.8"/></g><g transform="translate(583 1455.5) rotate(-9)"><clipPath id="pp1"><ellipse cx="0" cy="0" rx="25" ry="16.5"/></clipPath><ellipse cx="0" cy="0" rx="25" ry="16.5" fill="url(#pred)"/><path clip-path="url(#pp1)" d="M0.5,-18.5 Q4.0,0 3.0,18.5 L27,18.5 L27,-18.5 Z" fill="url(#pblue)"/><path clip-path="url(#pp1)" d="M0.5,-18.5 Q4.0,0 3.0,18.5" fill="none" stroke="#3a1d3a" stroke-width="1.2"/><ellipse cx="0" cy="0" rx="25" ry="16.5" fill="none" stroke="#5a2030" stroke-width="0.9" opacity="0.8"/></g><g transform="translate(477.4 1510.9) rotate(-9)"><clipPath id="pp2"><ellipse cx="0" cy="0" rx="25" ry="16.5"/></clipPath><ellipse cx="0" cy="0" rx="25" ry="16.5" fill="url(#pred)"/><path clip-path="url(#pp2)" d="M-11.25,-18.5 Q-7.75,0 -8.75,18.5 L27,18.5 L27,-18.5 Z" fill="url(#pblue)"/><path clip-path="url(#pp2)" d="M-11.25,-18.5 Q-7.75,0 -8.75,18.5" fill="none" stroke="#3a1d3a" stroke-width="1.2"/><ellipse cx="0" cy="0" rx="25" ry="16.5" fill="none" stroke="#5a2030" stroke-width="0.9" opacity="0.8"/></g><g transform="translate(586.4 1495.4) rotate(-9)"><clipPath id="pp3"><ellipse cx="0" cy="0" rx="25" ry="16.5"/></clipPath><ellipse cx="0" cy="0" rx="25" ry="16.5" fill="url(#pred)"/><path clip-path="url(#pp3)" d="M-2.0,-18.5 Q1.5,0 0.5,18.5 L27,18.5 L27,-18.5 Z" fill="url(#pblue)"/><path clip-path="url(#pp3)" d="M-2.0,-18.5 Q1.5,0 0.5,18.5" fill="none" stroke="#3a1d3a" stroke-width="1.2"/><ellipse cx="0" cy="0" rx="25" ry="16.5" fill="none" stroke="#5a2030" stroke-width="0.9" opacity="0.8"/></g><g transform="translate(527.6 1521.2) rotate(-9)"><clipPath id="pp4"><ellipse cx="0" cy="0" rx="25" ry="16.5"/></clipPath><ellipse cx="0" cy="0" rx="25" ry="16.5" fill="url(#pred)"/><path clip-path="url(#pp4)" d="M0.5,-18.5 Q4.0,0 3.0,18.5 L27,18.5 L27,-18.5 Z" fill="url(#pblue)"/><path clip-path="url(#pp4)" d="M0.5,-18.5 Q4.0,0 3.0,18.5" fill="none" stroke="#3a1d3a" stroke-width="1.2"/><ellipse cx="0" cy="0" rx="25" ry="16.5" fill="none" stroke="#5a2030" stroke-width="0.9" opacity="0.8"/></g><g transform="translate(433 1550.5) rotate(-9)"><clipPath id="pp5"><ellipse cx="0" cy="0" rx="25" ry="16.5"/></clipPath><ellipse cx="0" cy="0" rx="25" ry="16.5" fill="url(#pred)"/><path clip-path="url(#pp5)" d="M-11.25,-18.5 Q-7.75,0 -8.75,18.5 L27,18.5 L27,-18.5 Z" fill="url(#pblue)"/><path clip-path="url(#pp5)" d="M-11.25,-18.5 Q-7.75,0 -8.75,18.5" fill="none" stroke="#3a1d3a" stroke-width="1.2"/><ellipse cx="0" cy="0" rx="25" ry="16.5" fill="none" stroke="#5a2030" stroke-width="0.9" opacity="0.8"/></g><g transform="translate(581.2 1537) rotate(-9)"><clipPath id="pp6"><ellipse cx="0" cy="0" rx="25" ry="16.5"/></clipPath><ellipse cx="0" cy="0" rx="25" ry="16.5" fill="url(#pred)"/><path clip-path="url(#pp6)" d="M-2.0,-18.5 Q1.5,0 0.5,18.5 L27,18.5 L27,-18.5 Z" fill="url(#pblue)"/><path clip-path="url(#pp6)" d="M-2.0,-18.5 Q1.5,0 0.5,18.5" fill="none" stroke="#3a1d3a" stroke-width="1.2"/><ellipse cx="0" cy="0" rx="25" ry="16.5" fill="none" stroke="#5a2030" stroke-width="0.9" opacity="0.8"/></g><g transform="translate(643.8 1531) rotate(-9)"><clipPath id="pp7"><ellipse cx="0" cy="0" rx="25" ry="16.5"/></clipPath><ellipse cx="0" cy="0" rx="25" ry="16.5" fill="url(#pred)"/><path clip-path="url(#pp7)" d="M0.5,-18.5 Q4.0,0 3.0,18.5 L27,18.5 L27,-18.5 Z" fill="url(#pblue)"/><path clip-path="url(#pp7)" d="M0.5,-18.5 Q4.0,0 3.0,18.5" fill="none" stroke="#3a1d3a" stroke-width="1.2"/><ellipse cx="0" cy="0" rx="25" ry="16.5" fill="none" stroke="#5a2030" stroke-width="0.9" opacity="0.8"/></g><g transform="translate(486.6 1554.8) rotate(-9)"><clipPath id="pp8"><ellipse cx="0" cy="0" rx="25" ry="16.5"/></clipPath><ellipse cx="0" cy="0" rx="25" ry="16.5" fill="url(#pred)"/><path clip-path="url(#pp8)" d="M2.5,-18.5 Q6.0,0 5.0,18.5 L27,18.5 L27,-18.5 Z" fill="url(#pblue)"/><path clip-path="url(#pp8)" d="M2.5,-18.5 Q6.0,0 5.0,18.5" fill="none" stroke="#3a1d3a" stroke-width="1.2"/><ellipse cx="0" cy="0" rx="25" ry="16.5" fill="none" stroke="#5a2030" stroke-width="0.9" opacity="0.8"/></g><g transform="translate(536.2 1577.7) rotate(-9)"><clipPath id="pp9"><ellipse cx="0" cy="0" rx="25" ry="16.5"/></clipPath><ellipse cx="0" cy="0" rx="25" ry="16.5" fill="url(#pred)"/><path clip-path="url(#pp9)" d="M-2.0,-18.5 Q1.5,0 0.5,18.5 L27,18.5 L27,-18.5 Z" fill="url(#pblue)"/><path clip-path="url(#pp9)" d="M-2.0,-18.5 Q1.5,0 0.5,18.5" fill="none" stroke="#3a1d3a" stroke-width="1.2"/><ellipse cx="0" cy="0" rx="25" ry="16.5" fill="none" stroke="#5a2030" stroke-width="0.9" opacity="0.8"/></g><g transform="translate(611.6 1574.9) rotate(-9)"><clipPath id="pp10"><ellipse cx="0" cy="0" rx="25" ry="16.5"/></clipPath><ellipse cx="0" cy="0" rx="25" ry="16.5" fill="url(#pred)"/><path clip-path="url(#pp10)" d="M0.5,-18.5 Q4.0,0 3.0,18.5 L27,18.5 L27,-18.5 Z" fill="url(#pblue)"/><path clip-path="url(#pp10)" d="M0.5,-18.5 Q4.0,0 3.0,18.5" fill="none" stroke="#3a1d3a" stroke-width="1.2"/><ellipse cx="0" cy="0" rx="25" ry="16.5" fill="none" stroke="#5a2030" stroke-width="0.9" opacity="0.8"/></g><g transform="translate(671 1573.4) rotate(-9)"><clipPath id="pp11"><ellipse cx="0" cy="0" rx="25" ry="16.5"/></clipPath><ellipse cx="0" cy="0" rx="25" ry="16.5" fill="url(#pred)"/><path clip-path="url(#pp11)" d="M32.5,-18.5 Q36.0,0 35.0,18.5 L27,18.5 L27,-18.5 Z" fill="url(#pblue)"/><path clip-path="url(#pp11)" d="M32.5,-18.5 Q36.0,0 35.0,18.5" fill="none" stroke="#3a1d3a" stroke-width="1.2"/><ellipse cx="0" cy="0" rx="25" ry="16.5" fill="none" stroke="#5a2030" stroke-width="0.9" opacity="0.8"/></g><ellipse cx="671" cy="1573.4" rx="25" ry="16.5" transform="rotate(-9 671 1573.4)" fill="#e8603f" opacity="0.55"/><g transform="translate(463.6 1593.5) rotate(-9)"><clipPath id="pp12"><ellipse cx="0" cy="0" rx="25" ry="16.5"/></clipPath><ellipse cx="0" cy="0" rx="25" ry="16.5" fill="url(#pred)"/><path clip-path="url(#pp12)" d="M-2.0,-18.5 Q1.5,0 0.5,18.5 L27,18.5 L27,-18.5 Z" fill="url(#pblue)"/><path clip-path="url(#pp12)" d="M-2.0,-18.5 Q1.5,0 0.5,18.5" fill="none" stroke="#3a1d3a" stroke-width="1.2"/><ellipse cx="0" cy="0" rx="25" ry="16.5" fill="none" stroke="#5a2030" stroke-width="0.9" opacity="0.8"/></g><g transform="translate(561 1616.5) rotate(-9)"><clipPath id="pp13"><ellipse cx="0" cy="0" rx="25" ry="16.5"/></clipPath><ellipse cx="0" cy="0" rx="25" ry="16.5" fill="url(#pred)"/><path clip-path="url(#pp13)" d="M0.5,-18.5 Q4.0,0 3.0,18.5 L27,18.5 L27,-18.5 Z" fill="url(#pblue)"/><path clip-path="url(#pp13)" d="M0.5,-18.5 Q4.0,0 3.0,18.5" fill="none" stroke="#3a1d3a" stroke-width="1.2"/><ellipse cx="0" cy="0" rx="25" ry="16.5" fill="none" stroke="#5a2030" stroke-width="0.9" opacity="0.8"/></g><g transform="translate(638 1613.6) rotate(-9)"><clipPath id="pp14"><ellipse cx="0" cy="0" rx="25" ry="16.5"/></clipPath><ellipse cx="0" cy="0" rx="25" ry="16.5" fill="url(#pred)"/><path clip-path="url(#pp14)" d="M2.5,-18.5 Q6.0,0 5.0,18.5 L27,18.5 L27,-18.5 Z" fill="url(#pblue)"/><path clip-path="url(#pp14)" d="M2.5,-18.5 Q6.0,0 5.0,18.5" fill="none" stroke="#3a1d3a" stroke-width="1.2"/><ellipse cx="0" cy="0" rx="25" ry="16.5" fill="none" stroke="#5a2030" stroke-width="0.9" opacity="0.8"/></g><g transform="translate(493.7 1626.5) rotate(-9)"><clipPath id="pp15"><ellipse cx="0" cy="0" rx="25" ry="16.5"/></clipPath><ellipse cx="0" cy="0" rx="25" ry="16.5" fill="url(#pred)"/><path clip-path="url(#pp15)" d="M-2.0,-18.5 Q1.5,0 0.5,18.5 L27,18.5 L27,-18.5 Z" fill="url(#pblue)"/><path clip-path="url(#pp15)" d="M-2.0,-18.5 Q1.5,0 0.5,18.5" fill="none" stroke="#3a1d3a" stroke-width="1.2"/><ellipse cx="0" cy="0" rx="25" ry="16.5" fill="none" stroke="#5a2030" stroke-width="0.9" opacity="0.8"/></g><g transform="translate(535.6 1666.7) rotate(-9)"><clipPath id="pp16"><ellipse cx="0" cy="0" rx="25" ry="16.5"/></clipPath><ellipse cx="0" cy="0" rx="25" ry="16.5" fill="url(#pred)"/><path clip-path="url(#pp16)" d="M0.5,-18.5 Q4.0,0 3.0,18.5 L27,18.5 L27,-18.5 Z" fill="url(#pblue)"/><path clip-path="url(#pp16)" d="M0.5,-18.5 Q4.0,0 3.0,18.5" fill="none" stroke="#3a1d3a" stroke-width="1.2"/><ellipse cx="0" cy="0" rx="25" ry="16.5" fill="none" stroke="#5a2030" stroke-width="0.9" opacity="0.8"/></g><g transform="translate(607.9 1658.9) rotate(-9)"><clipPath id="pp17"><ellipse cx="0" cy="0" rx="25" ry="16.5"/></clipPath><ellipse cx="0" cy="0" rx="25" ry="16.5" fill="url(#pred)"/><path clip-path="url(#pp17)" d="M2.5,-18.5 Q6.0,0 5.0,18.5 L27,18.5 L27,-18.5 Z" fill="url(#pblue)"/><path clip-path="url(#pp17)" d="M2.5,-18.5 Q6.0,0 5.0,18.5" fill="none" stroke="#3a1d3a" stroke-width="1.2"/><ellipse cx="0" cy="0" rx="25" ry="16.5" fill="none" stroke="#5a2030" stroke-width="0.9" opacity="0.8"/></g></g>
<g clip-path="url(#pc)"><path d="M636,1549 L672,1519 L672,1590 L636,1573 Z" fill="#fff" opacity="0.28"/></g>
<circle cx="549.8" cy="1570.5" r="119.3" fill="none" stroke="#111" stroke-width="2.4"/>
<defs><clipPath id="sc"><circle cx="839.3" cy="1534.2" r="118.8"/></clipPath></defs>
<g clip-path="url(#sc)"><circle cx="839.3" cy="1534.2" r="118.8" fill="#ececee"/><path d="M715,1542.5 Q839.7,1512.5 965,1511 L965,1536 Q839.7,1535 715,1566.5 Z" fill="#6fb9c9"/><path d="M715,1566.5 Q839.7,1535 965,1536 L965,1700 L715,1700 Z" fill="#3a3c41"/><path d="M715,1566.5 Q839.7,1535 965,1536" fill="none" stroke="#1c1e22" stroke-width="1.6"/></g>
<circle cx="839.3" cy="1534.2" r="118.8" fill="none" stroke="#111" stroke-width="2.4"/>
<text x="770.0" y="1476.4" font-family="&quot;Liberation Sans&quot;, sans-serif" font-size="25" fill="#221f20" textLength="120.7" lengthAdjust="spacingAndGlyphs" stroke="#221f20" stroke-width="0.6" stroke-linejoin="round" transform="rotate(-6.2 770.0 1476.4)" >Silica shell</text>
<line x1="801" y1="1482.6" x2="790" y2="1520" stroke="#111" stroke-width="1.6"/>
<path d="M788,1527.5 L785.5,1512 L790.5,1516.5 L796.5,1514.5 Z" fill="#111"/>
<text x="793.8" y="1593.5" font-family="&quot;Liberation Sans&quot;, sans-serif" font-size="26.4" fill="#f2f2f2" textLength="113.0" lengthAdjust="spacingAndGlyphs" stroke="#f2f2f2" stroke-width="0.6" stroke-linejoin="round" transform="rotate(-6.1 793.8 1593.5)" >Magnetic</text>
<text x="809.9" y="1629" font-family="&quot;Liberation Sans&quot;, sans-serif" font-size="26.4" fill="#f2f2f2" textLength="89.3" lengthAdjust="spacingAndGlyphs" stroke="#f2f2f2" stroke-width="0.6" stroke-linejoin="round" transform="rotate(-7.5 809.9 1629)" >particle</text>
<text x="48.0" y="1531" font-family="&quot;Liberation Sans&quot;, sans-serif" font-size="26.4" fill="#221f20" textLength="268.0" lengthAdjust="spacingAndGlyphs" stroke="#221f20" stroke-width="0.6" stroke-linejoin="round" >Applied magnetic field</text>
<text x="329" y="1531.5" font-family="&quot;Liberation Serif&quot;, serif" font-size="36.5" fill="#221f20" textLength="24.6" lengthAdjust="spacingAndGlyphs" font-weight="bold" >B</text>
<text x="123.0" y="1595.4" font-family="&quot;Liberation Sans&quot;, sans-serif" font-size="26.4" fill="#221f20" textLength="287.0" lengthAdjust="spacingAndGlyphs" stroke="#221f20" stroke-width="0.6" stroke-linejoin="round" >Hard-magnetic particles</text>
<text x="123.4" y="1627.7" font-family="&quot;Liberation Sans&quot;, sans-serif" font-size="26.4" fill="#221f20" textLength="293.4" lengthAdjust="spacingAndGlyphs" stroke="#221f20" stroke-width="0.6" stroke-linejoin="round" >embedded in soft matrix</text>
<text x="172.4" y="1660.8" font-family="&quot;Liberation Sans&quot;, sans-serif" font-size="26.4" fill="#221f20" textLength="198.6" lengthAdjust="spacingAndGlyphs" stroke="#221f20" stroke-width="0.6" stroke-linejoin="round" >(PDMS, TPU, etc.)</text>

</svg>
</body></html>
